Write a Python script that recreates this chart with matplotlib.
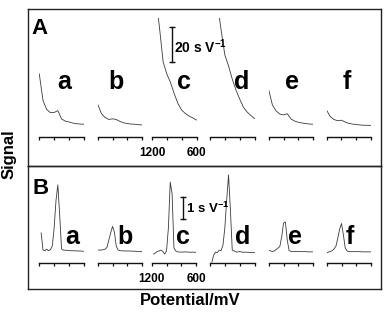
import numpy as np
import matplotlib
matplotlib.use("Agg")
import matplotlib.pyplot as plt

plt.rcParams['font.family'] = ['Liberation Sans', 'DejaVu Sans']
plt.rcParams['mathtext.fontset'] = 'custom'
plt.rcParams['mathtext.rm'] = 'Liberation Sans'
plt.rcParams['mathtext.bf'] = 'Liberation Sans:bold'

# ---------------- data ----------------
trace_labels = ['a', 'b', 'c', 'd', 'e', 'f']
nan = np.nan

# Panel A (s V^-1, arbitrary offset)
potential_A = [1200, 1150, 1100, 1050, 1000, 950, 900, 850, 800, 750, 700, 650, 600]
signal_A_a = [36.0, 20.8, 15.7, 13.9, 14.0, 15.1, 10.3, 9.1, 8.6, 8.0, 7.6, 7.4, 7.3]
signal_A_b = [18.7, 13.4, 11.1, 10.0, 10.4, 10.0, 8.9, 8.1, 7.7, 7.4, 7.3, 7.0, 6.9]
signal_A_c = [nan, 81.0, 62.9, 42.9, 36.0, 31.1, 24.7, 19.1, 15.4, 13.4, 12.0, 10.9, 9.7]
signal_A_d = [nan, nan, 76.3, 61.1, 46.9, 40.6, 33.1, 26.9, 21.7, 17.1, 14.3, 12.3, 10.6]
signal_A_e = [27.0, 18.3, 14.9, 13.1, 12.6, 13.3, 10.3, 9.1, 8.4, 8.0, 7.7, 7.4, 7.3]
signal_A_f = [15.4, 11.7, 10.0, 9.3, 9.6, 8.6, 7.8, 7.4, 7.1, 6.9, 6.7, 6.7, 6.6]

# Panel B (s V^-1, arbitrary offset)
potential_B = [1200, 1175, 1150, 1125, 1100, 1075, 1050, 1025, 1000, 975, 950, 925,
               900, 875, 850, 825, 800, 775, 750, 725, 700, 675, 650, 625, 600]
signal_B_a = [nan, 1.35, 0.58, 0.55, 0.62, 0.55, 0.60, 0.76, 1.57, 2.80, 3.50, 2.15,
              0.63, 0.58, 0.57, 0.57, 0.56, 0.55, 0.55, 0.55, 0.54, 0.54, 0.54, 0.53, 0.53]
signal_B_b = [0.58, 0.58, 0.58, 0.60, 0.62, 0.70, 1.03, 1.35, 1.64, 1.39, 0.76, 0.58,
              0.55, 0.55, 0.54, 0.54, 0.54, 0.54, 0.53, 0.53, 0.53, 0.52, 0.52, 0.52, 0.51]
signal_B_c = [nan, 0.40, 0.45, 0.52, 0.54, 0.58, 0.52, 0.40, 0.54, 1.57, 3.63, 3.10,
              0.67, 0.54, 0.50, 0.49, 0.49, 0.49, 0.50, 0.49, 0.49, 0.48, 0.49, 0.48, 0.48]
signal_B_d = [nan, 0.04, 0.36, 0.49, 0.47, 0.58, 0.56, 0.81, 1.57, 2.83, 3.95, 2.38,
              0.58, 0.54, 0.50, 0.49, 0.52, 0.49, 0.48, 0.49, 0.48, 0.48, 0.47, 0.47, 0.47]
signal_B_e = [0.58, 0.54, 0.52, 0.54, 0.60, 0.67, 0.74, 1.17, 1.79, 1.84, 1.03, 0.56,
              0.52, 0.52, 0.52, 0.52, 0.52, 0.51, 0.51, 0.51, 0.51, 0.50, 0.50, 0.50, 0.50]
signal_B_f = [0.45, 0.49, 0.52, 0.56, 0.63, 0.76, 1.12, 1.52, 1.77, 1.26, 0.67, 0.54,
              0.51, 0.51, 0.51, 0.51, 0.51, 0.51, 0.51, 0.50, 0.50, 0.50, 0.50, 0.50, 0.50]

tick_values = [1200, 1000, 800, 600]
tick_labels_shown = ['1200', '', '', '600']
scale_A = 20   # s V^-1
scale_B = 1    # s V^-1

signals_A = [signal_A_a, signal_A_b, signal_A_c, signal_A_d, signal_A_e, signal_A_f]
signals_B = [signal_B_a, signal_B_b, signal_B_c, signal_B_d, signal_B_e, signal_B_f]

# ---------------- layout ----------------
W, H = 386, 314
fig = plt.figure(figsize=(W / 100, H / 100), dpi=100)


def rect(x0, y0, x1, y1):
    return [x0 / W, 1 - y1 / H, (x1 - x0) / W, (y1 - y0) / H]


def fx(x):
    return x / W


def fy(y):
    return 1 - y / H


# panel frames
for (y0, y1) in [(9, 166), (166, 289)]:
    fr = fig.add_axes(rect(28, y0, 381, y1))
    fr.set_xticks([])
    fr.set_yticks([])
    fr.patch.set_alpha(0)
    for s in fr.spines.values():
        s.set_linewidth(1.0)
        s.set_color('#222222')

trace_color = '#3a3a3a'


def small_axes(x0, ytop, ybot, ylim_top, show_labels):
    ax = fig.add_axes(rect(x0, ytop, x0 + 44.5, ybot))
    ax.patch.set_alpha(0)
    ax.set_xlim(1200, 600)
    ax.set_ylim(0, ylim_top)
    for side in ['top', 'left', 'right']:
        ax.spines[side].set_visible(False)
    ax.spines['bottom'].set_linewidth(1.0)
    ax.spines['bottom'].set_color('#111111')
    ax.set_yticks([])
    ax.set_xticks(tick_values)
    if show_labels:
        ax.set_xticklabels(tick_labels_shown, fontsize=8.5, fontweight='bold')
    else:
        ax.set_xticklabels([])
    ax.tick_params(axis='x', direction='out', length=2.3, width=0.9,
                   pad=5.2, color='#111111')
    return ax


xA = [39.3, 97.7, 152.0, 210.0, 268.7, 326.5]
xB = [39.3, 97.7, 151.7, 210.0, 268.7, 326.7]

axesA = []
for i, lab in enumerate(trace_labels):
    ax = small_axes(xA[i], 18, 137, (137 - 18) / 1.75, lab == 'c')
    ax.plot(potential_A, signals_A[i], color=trace_color, lw=0.6)
    axesA.append(ax)

axesB = []
for i, lab in enumerate(trace_labels):
    ax = small_axes(xB[i], 167, 263, (263 - 167) / 22.3, lab == 'c')
    ax.plot(potential_B, signals_B[i], color=trace_color, lw=0.6)
    axesB.append(ax)

# scale bars (drawn in data units of trace c axes)
axc = axesA[2]
y0 = (137 - 62) / 1.75
axc.plot([930, 930], [y0, y0 + scale_A], color='#111111', lw=1.0, clip_on=False)
axc.plot([930, 930], [y0, y0 + scale_A], ls='none', marker='_', ms=5, mew=1.0,
         color='#111111', clip_on=False)
axc = axesB[2]
y0 = (263 - 219) / 22.3
axc.plot([783, 783], [y0, y0 + scale_B], color='#111111', lw=1.0, clip_on=False)
axc.plot([783, 783], [y0, y0 + scale_B], ls='none', marker='_', ms=5, mew=1.0,
         color='#111111', clip_on=False)

fig.text(fx(174), fy(46.5), r'20 s V$^{\mathbf{-1}}$', fontsize=10, fontweight='bold',
         ha='left', va='center')
fig.text(fx(186.5), fy(208), r'1 s V$^{\mathbf{-1}}$', fontsize=9.5, fontweight='bold',
         ha='left', va='center')

# panel letters
fig.text(fx(31.5), fy(34.5), 'A', fontsize=16, fontweight='bold', ha='left', va='baseline')
fig.text(fx(32), fy(193.5), 'B', fontsize=16, fontweight='bold', ha='left', va='baseline')

labA_x = [63.7, 116, 183.5, 241.7, 292.5, 346.7]
labB_x = [71.7, 125, 183.3, 242.5, 295, 350]
for i, lab in enumerate(trace_labels):
    fig.text(fx(labA_x[i]), fy(89), lab, fontsize=18, fontweight='bold',
             ha='center', va='baseline')
    fig.text(fx(labB_x[i]), fy(243.5), lab, fontsize=18, fontweight='bold',
             ha='center', va='baseline')

fig.text(fx(9), fy(154), 'Signal', fontsize=12, fontweight='bold', rotation=90,
         ha='center', va='center')
fig.text(fx(190), fy(300.5), 'Potential/mV', fontsize=12, fontweight='bold',
         ha='center', va='center')

fig.savefig('out.png', dpi=100)
